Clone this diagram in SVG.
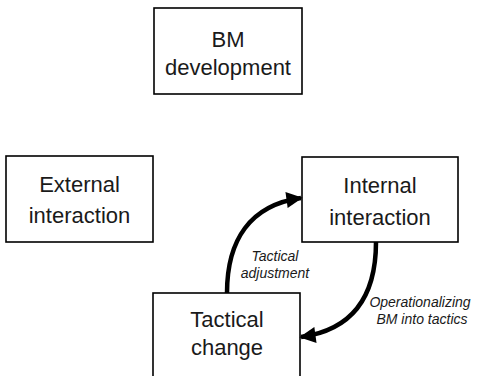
<svg xmlns="http://www.w3.org/2000/svg" width="479" height="376" viewBox="0 0 479 376">
<style>
.box{fill:#fff;stroke:#000;stroke-width:1.6}
.t{font-family:"Liberation Sans",Arial,sans-serif;font-size:22px;fill:#1a1a1a;text-anchor:middle}
.l{font-family:"Liberation Sans",Arial,sans-serif;font-size:14px;font-style:italic;fill:#1a1a1a;text-anchor:middle}
.c{fill:none;stroke:#000;stroke-width:4.5}
</style>
<defs>
<marker id="ah" viewBox="0 0 10 10" refX="9" refY="5" markerWidth="4.2" markerHeight="3.6" orient="auto" markerUnits="strokeWidth">
<path d="M0,0 L10,5 L0,10 Z" fill="#000"/>
</marker>
</defs>
<rect width="479" height="376" fill="#fff"/>
<g id="bm-development">
<rect class="box" x="154" y="8" width="148" height="86"/>
<text class="t" x="228" y="47">BM</text>
<text class="t" x="228" y="75">development</text>
</g>
<g id="external-interaction">
<rect class="box" x="6" y="156" width="147" height="86"/>
<text class="t" x="79.5" y="192">External</text>
<text class="t" x="79.5" y="223">interaction</text>
</g>
<g id="internal-interaction">
<rect class="box" x="302" y="157" width="156" height="85"/>
<text class="t" x="380" y="193">Internal</text>
<text class="t" x="380" y="225">interaction</text>
</g>
<g id="tactical-change">
<rect class="box" x="153" y="293" width="147" height="90"/>
<text class="t" x="227" y="327">Tactical</text>
<text class="t" x="227" y="355">change</text>
</g>
<g id="connectors">
<path class="c" d="M227,293 C227,240 250,205 301,198" marker-end="url(#ah)"/>
<path class="c" d="M376,242 C376,298 352,330 301,337" marker-end="url(#ah)"/>
<text class="l" x="275" y="261">Tactical</text>
<text class="l" x="275" y="278">adjustment</text>
<text class="l" x="420" y="307">Operationalizing</text>
<text class="l" x="422" y="324">BM into tactics</text>
</g>
</svg>
